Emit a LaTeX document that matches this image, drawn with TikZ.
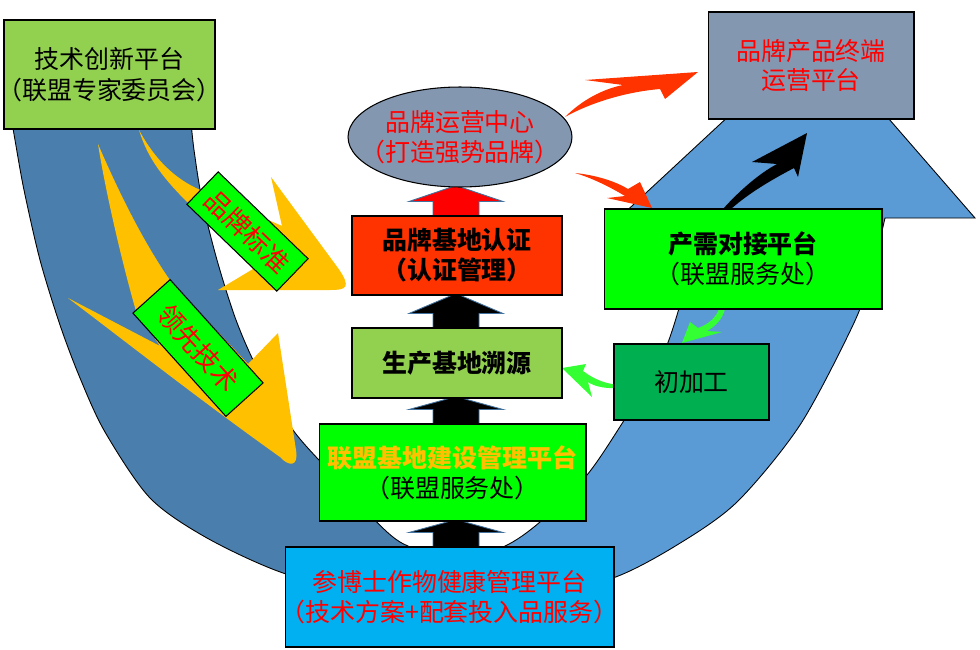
\documentclass[tikz,border=0pt]{standalone}
\usepackage{fontspec}
\setmainfont{Noto Sans CJK SC}[RawFeature=+halt]
\usetikzlibrary{shapes.geometric, calc, backgrounds}

\definecolor{leafgreen}{HTML}{92D050}
\definecolor{slateblue}{HTML}{8497B0}
\definecolor{certred}{HTML}{FF3300}
\definecolor{brightgreen}{HTML}{00FF00}
\definecolor{darkgreen}{HTML}{00B050}
\definecolor{skyblue}{HTML}{00B0F0}
\definecolor{goldyellow}{HTML}{FFC000}
\definecolor{banddark}{HTML}{4A7EAC}
\definecolor{bandlight}{HTML}{5B9BD5}
\definecolor{arrowedge}{HTML}{41719C}
\definecolor{arrowred}{HTML}{FF3300}
\definecolor{curvegreen}{HTML}{33FF33}

% block arrow from the top of #1 up to the bottom of #2
\newcommand{\blockup}[3]{%
  \filldraw[blockarr, fill=#3]
    ($(#1.north -| col)+(-23,1)$) -- ($(#1.north -| col)+(-23,-14)$)
    -- ($(#1.north -| col)+(-47,-14)$) -- ($(#2.south -| col)+(0,-2)$)
    -- ($(#1.north -| col)+(47,-14)$) -- ($(#1.north -| col)+(23,-14)$)
    -- ($(#1.north -| col)+(23,1)$) -- cycle;}

\begin{document}
\begin{tikzpicture}[x=0.02cm, y=-0.02cm,
    box/.style={draw=black, line width=0.6pt, align=center, inner sep=0pt,
      font=\fontsize{14.2}{17}\selectfont},
    tag/.style={draw=black, line width=0.6pt, fill=brightgreen, text=red,
      inner sep=0pt, font=\fontsize{15}{18}\selectfont},
    blockarr/.style={draw=arrowedge, line width=0.5pt},
    band/.style={draw=black, line width=0.5pt}]
  \useasboundingbox (0,0) rectangle (980,649);
  \coordinate (col) at (456,0);

  % Platforms
  \node[box, fill=leafgreen, minimum width=4.22cm, minimum height=2.18cm,
    font=\fontsize{14.2}{18}\selectfont] (tech) at (109.5,74.5)
    {技术创新平台\\（联盟专家委员会）};
  \node[box, fill=slateblue, text=red, minimum width=4.12cm, minimum height=2.14cm]
    (terminal) at (811,65.5) {品牌产品终端\\运营平台};
  \node[ellipse, draw=black, line width=0.6pt, fill=slateblue, inner sep=0pt,
    minimum width=4.48cm, minimum height=2cm] (brand) at (460,137) {};
  \node[align=center, text=red, font=\fontsize{14.2}{17}\selectfont] at (brand)
    {品牌运营中心\\（打造强势品牌）};
  \node[box, fill=certred, minimum width=4.2cm, minimum height=1.58cm,
    font=\fontsize{14.2}{17}\selectfont\bfseries] (cert) at (457,255.5)
    {品牌基地认证\\（认证管理）};
  \node[box, fill=leafgreen, minimum width=4.2cm, minimum height=1.4cm,
    font=\fontsize{14.2}{17}\selectfont\bfseries] (trace) at (457,363) {生产基地溯源};
  \node[box, fill=brightgreen, minimum width=5.34cm, minimum height=1.94cm]
    (alliance) at (452.5,472.5)
    {\textcolor{goldyellow}{\bfseries 联盟基地建设管理平台}\\（联盟服务处）};
  \node[box, fill=skyblue, text=red, minimum width=6.58cm, minimum height=2cm]
    (ginseng) at (449.5,597) {参博士作物健康管理平台\\（技术方案+配套投入品服务）};
  \node[box, fill=brightgreen, minimum width=5.56cm, minimum height=2cm]
    (match) at (743,259) {{\bfseries 产需对接平台}\\（联盟服务处）};
  \node[box, fill=darkgreen, minimum width=3.1cm, minimum height=1.52cm]
    (process) at (691.5,382) {初加工};

  % Tags on the yellow arrows
  \node[tag, minimum width=2.5cm, minimum height=0.9cm, rotate=-44]
    (stdtag) at (247.5,231.5) {品牌标准};
  \node[tag, minimum width=2.78cm, minimum height=1cm, rotate=-48]
    (techtag) at (198,348) {领先技术};

  \begin{pgfonlayer}{background}
    % U-shaped band
    \filldraw[band, fill=banddark] (191,122) -- plot[smooth] coordinates {(191,122)
      (194,150) (202,200) (217,260) (236,320) (258,370) (293,430) (333,475)
      (367,512) (400,542) (450,562)} -- (450,602) -- plot[smooth] coordinates
      {(450,602) (370,594) (283,573) (207,538) (150,498) (105,432) (80,378)
      (60,325) (40,260) (24,190) (15,140) (12,122)} -- cycle;
    \filldraw[band, fill=bandlight] (450,562) -- plot[smooth] coordinates {(450,562)
      (503,547) (540,522) (587,475) (623,422) (650,378) (667,345) (680,305)
      (692,260) (702,218)} -- (619,218) -- (816,35) -- (975,218) -- (885,218)
      -- plot[smooth] coordinates {(885,218) (871,275) (853,325) (800,425)
      (737,502) (677,545) (613,578) (530,597) (450,602)} -- cycle;

    % Yellow arrows
    \fill[goldyellow] (139,130) .. controls (158,165) and (180,182) .. (205,192)
      -- (282,226) -- (271,177) -- (338,268) .. controls (352,288) and (346,290)
      .. (330,290) -- (218,290) -- (253,269) -- (190,205)
      .. controls (165,180) and (148,160) .. (139,130) -- cycle;
    \fill[goldyellow] (98,144) .. controls (120,195) and (145,245) .. (172,283)
      -- (248,364) -- (278,333) -- (296,450) .. controls (299,468) and (288,466)
      .. (280,457) .. controls (200,400) and (130,345) .. (68,298) -- (160,346)
      -- (136,311) .. controls (124,270) and (106,195) .. (98,144) -- cycle;

    % Block arrows
    \blockup{cert}{brand}{red}
    \blockup{trace}{cert}{black}
    \blockup{alliance}{trace}{black}
    \blockup{ginseng}{alliance}{black}

    % Curved arrows
    \fill[arrowred] (565,117) .. controls (582,100) and (603,89) .. (623,85)
      -- (585,80) -- (698,72) -- (665,99) -- (660,89)
      .. controls (625,92) and (590,103) .. (565,117) -- cycle;
    \fill[arrowred] (575,173) .. controls (595,175) and (615,181) .. (628,189)
      -- (640,182) -- (652,208) -- (607,198) -- (625,196)
      .. controls (610,187) and (592,178) .. (575,173) -- cycle;
    \fill[black] (723,209) .. controls (740,190) and (760,173) .. (777,164)
      -- (752,162) -- (807,133) -- (798,177) -- (794,168)
      .. controls (775,178) and (750,192) .. (731,209) -- cycle;
    \fill[curvegreen] (719,309) .. controls (716,318) and (707,325) .. (698,328)
      -- (690,322) -- (682,343) -- (722,332) -- (707,331)
      .. controls (716,326) and (723,318) .. (725,309) -- cycle;
    \fill[curvegreen] (562,368) -- (586,364) -- (583,371)
      .. controls (595,380) and (608,385) .. (623,385) -- (623,388)
      .. controls (607,389) and (595,387) .. (588,382) -- (592,397) -- cycle;
  \end{pgfonlayer}
\end{tikzpicture}
\end{document}
